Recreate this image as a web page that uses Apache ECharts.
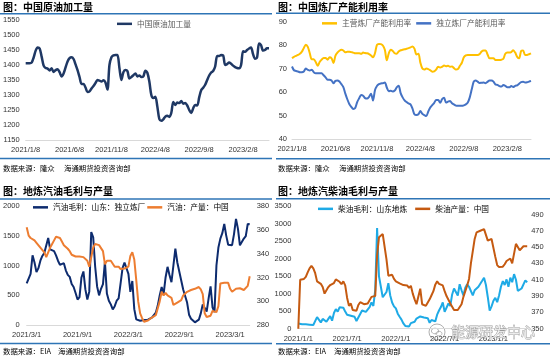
<!DOCTYPE html>
<html><head><meta charset="utf-8">
<script src="https://cdn.jsdelivr.net/npm/echarts@6/dist/echarts.min.js"></script>
<style>html,body{margin:0;padding:0;background:#fff}#c{width:550px;height:358px}</style>
</head><body><div id="c"></div>
<script>
// ---------- Panel 1: 中国原油加工量 (weekly from 2021/1/8)
const p1Start = '2021/1/8';
const p1TickLabels = ['2021/1/8','2021/6/8','2021/11/8','2022/4/8','2022/9/8','2023/2/8'];
const p1YTicks = [1150,1550,50];
const p1Crude = [1406,1406,1406,1408,1425,1448,1458,1455,1428,1398,
 1390,1388,1382,1389,1377,1383,1386,1376,1362,1372,
 1392,1412,1423,1426,1420,1402,1383,1360,1337,1337,
 1325,1310,1312,1322,1330,1340,1350,1348,1345,1349,
 1342,1318,1400,1426,1432,1433,1433,1390,1350,1376,
 1383,1380,1355,1360,1366,1372,1362,1365,1360,1362,
 1381,1374,1345,1300,1290,1294,1262,1220,1214,1219,
 1228,1231,1227,1240,1277,1267,1275,1273,1280,1271,
 1273,1265,1250,1240,1256,1267,1265,1292,1316,1324,
 1334,1350,1365,1375,1380,1395,1430,1430,1433,1432,
 1400,1403,1408,1404,1398,1393,1390,1389,1400,1446,
 1444,1450,1455,1458,1436,1421,1425,1472,1466,1448,
 1450,1456,1456];

// ---------- Panel 2: 中国炼厂产能利用率
const p2Start = '2021/1/8';
const p2TickLabels = ['2021/1/8','2021/6/8','2021/11/8','2022/4/8','2022/9/8','2023/2/8'];
const p2YTicks = [40,90,10];
const p2Main = [74.4,75.0,75.4,75.8,76.3,77.2,78.8,80.1,79.2,76.5,
 74.0,74.0,72.8,71.2,72.8,73.8,74.5,74.5,73.8,74.8,
 74.4,72.4,75.5,76.8,77.6,78.0,77.7,76.9,77.2,77.2,
 77.0,76.8,76.5,76.5,76.5,76.3,76.8,76.6,76.5,76.2,
 75.6,74.8,76.5,80.1,80.5,80.4,79.8,78.0,73.5,76.5,
 78.0,77.5,76.5,76.3,77.3,77.8,78.0,78.2,78.4,78.7,
 79.0,79.4,78.5,76.0,76.3,72.5,70.0,69.6,70.0,69.8,
 69.3,68.7,68.8,69.6,70.8,70.5,70.8,71.3,71.0,71.2,
 70.8,70.9,70.2,69.6,69.8,71.2,72.5,74.8,75.6,75.8,
 75.8,75.8,75.8,75.8,75.8,76.2,77.3,77.7,77.7,76.0,
 74.4,74.4,74.4,73.7,73.7,73.7,73.8,74.2,76.3,76.8,
 76.8,77.0,77.8,76.8,75.0,74.4,77.5,77.7,75.8,75.8,
 76.1,76.5];
const p2Indep = [70.9,69.3,69.0,68.8,68.5,68.5,68.8,70.0,69.5,69.2,
 69.5,68.5,68.0,68.0,68.0,68.0,67.2,66.3,65.3,65.3,
 65.0,63.8,64.8,65.0,64.5,63.4,62.1,59.4,57.0,55.0,
 53.8,52.9,53.3,55.8,57.4,58.8,58.5,57.5,57.3,58.0,
 59.3,56.5,60.8,62.6,63.4,63.7,63.8,64.1,62.0,60.4,
 60.6,60.3,60.7,62.0,62.7,59.6,57.8,56.5,55.8,55.2,
 54.8,53.0,50.6,50.3,50.6,52.0,50.8,50.3,49.9,51.8,
 53.5,54.5,55.5,56.7,56.7,55.5,57.0,57.6,55.6,56.0,
 56.3,55.3,54.8,54.3,54.2,54.2,54.2,54.4,54.8,55.6,
 57.8,61.2,64.5,65.0,64.5,63.9,64.0,64.1,63.8,64.4,
 65.0,65.0,64.5,63.3,63.1,62.6,62.4,63.0,62.7,62.1,
 62.1,62.6,62.2,62.7,62.9,63.6,64.3,64.4,64.1,64.2,
 64.5,64.8];

// ---------- Panel 3: 地炼汽油毛利与产量
const p3Start = '2021/3/1';
const p3TickLabels = ['2021/3/1','2021/9/1','2022/3/1','2022/9/1','2023/3/1'];
const p3YLeft = [0,2000,500];
const p3YRight = [280,380,20];
const p3Margin = [700,733,860,1170,1050,890,956,1080,1160,1210,
 1220,1460,1270,1260,1240,1170,1080,1010,1020,1039,
 920,844,810,690,640,540,430,470,800,900,
 600,430,567,1560,1470,983,650,500,610,690,
 1060,530,411,350,265,320,411,450,700,956,
 1050,1050,860,560,740,270,100,72,77,77,
 90,110,94,110,130,155,210,330,500,640,
 520,800,978,840,720,1000,1282,1050,1061,750,
 600,620,380,177,110,130,50,50,94,200,
 350,380,230,450,650,300,220,1000,1300,1450,
 1540,1696,1500,1348,1345,1340,1530,1780,1613,1337,
 1360,1450,1492,1696,1690];
const p3Output = [362,355,353,352,351,349,347.5,345,343.5,341,
 337,341,345,348,351,354,355,353,350,347,
 348,344,342,339,339,337.5,338,337.5,337,337,
 335.5,334,329,330,345,348,346.5,347,346,342,
 331,334,335,334,333,329,328,329,327,326,
 327.5,326,329,338,341,335,318,300,290,286,
 283,283.5,284,285,286.5,288,288.5,290,300,308,
 305,307,305,304,303,297,298.5,299,300,301,
 305,304.5,308,309.5,309.5,310,310.5,310.5,312,310,
 306,290,287,288.5,288,292,291.5,291,296,315,
 316,315.5,316,315.5,310.5,308,309.5,310.5,310,311,
 310.5,309.5,308.5,313,321];

// ---------- Panel 4: 地炼汽柴油毛利与产量
const p4Start = '2021/1/1';
const p4TickLabels = ['2021/1/1','2021/7/1','2022/1/1','2022/7/1','2023/1/1'];
const p4YLeft = [0,3500,500];
const p4YRightLabels = [350,370,390,410,430,450,470,490];
const p4YRightRange = [350,500];
const p4Margin = [150,140,130,130,125,120,115,110,105,110,
 330,315,180,280,290,200,280,360,230,450,
 560,490,610,650,600,490,400,380,370,390,
 340,220,320,420,520,540,480,500,620,750,
 650,1100,2880,1500,1200,900,950,1050,1300,950,
 750,640,580,430,340,260,150,80,90,60,
 160,130,200,290,250,350,300,320,280,300,
 170,250,200,210,400,520,620,750,480,500,
 720,650,980,1150,1100,950,1270,1100,950,1170,
 1270,1200,1150,950,1100,1100,1200,1230,1370,1460,
 1250,900,520,640,800,880,760,950,1200,1360,
 1250,1410,1200,1460,1330,1560,1400,1080,1090,1150,
 1190,1380,1330];
const p4Output = [350,410,410.5,411,413.5,419,424,427,424,418,
 408,406,405,401,393,394,401,403.5,403,406,
 410.5,409,407.5,404.5,408,403,388,378,381,373,
 371,372,379,382.5,384,380,378,381,379,389,
 390,390,440,462,464,466,468,435,415,415.5,
 416,411,408,406.5,405.5,404.5,403.5,404.5,403,400,
 402.5,393,386,380,380,399,380,378,378,382,
 386,391,396,404,408,405,404,403,396,390,
 391,381,383,373,374,373,374,380,389,396,
 403,411,430,445,460,468,468,470,472,472,
 470,458,459,460,459,438,428,425.5,424.5,426,
 429,433,435,436,430,428,454,455,446,444,
 451,449,451];

// ---------- helpers
const FONT = "'Liberation Sans','Noto Sans CJK SC',sans-serif";
const CJK = "'Noto Sans CJK SC','Liberation Sans',sans-serif";
const DAY = 864e5;
function parseD(s){const a=s.split('/').map(Number);return Date.UTC(a[0],a[1]-1,a[2]);}
function weekly(start,n){const t0=parseD(start),out=[];for(let i=0;i<n;i++){const d=new Date(t0+i*7*DAY);out.push(d.getUTCFullYear()+'/'+(d.getUTCMonth()+1)+'/'+d.getUTCDate());}return out;}
function tickIdx(start,labels){const t0=parseD(start);return labels.map(l=>Math.round((parseD(l)-t0)/(7*DAY)));}
const plain = v => String(v);

function xAx(gi,start,n,labels){
  const idx=tickIdx(start,labels);
  return {type:'category',gridIndex:gi,data:weekly(start,n),boundaryGap:false,
    axisLine:{show:true,lineStyle:{color:'#d9d9d9',width:1}},axisTick:{show:false},splitLine:{show:false},
    axisLabel:{interval:(i)=>idx.indexOf(i)>=0,formatter:(v,i)=>{const k=idx.indexOf(i);return k>=0?labels[k]:'';},
      fontSize:7.5,color:'#333',margin:6,fontFamily:FONT}};
}
function yAx(gi,t,pos,margin){
  return {type:'value',gridIndex:gi,min:t[0],max:t[1],interval:t[2],position:pos,
    axisLine:{show:false},axisTick:{show:false},splitLine:{show:false},
    axisLabel:{fontSize:7.5,color:'#333',margin:margin,fontFamily:FONT,formatter:plain}};
}
function line(name,xi,yi,data,color,w,smooth){
  return {type:'line',name,xAxisIndex:xi,yAxisIndex:yi,data,symbol:'none',smooth:smooth||false,
    lineStyle:{color,width:w},itemStyle:{color},animation:false};
}
function legend(names,left,top,gap,color){
  return {data:names,left,top,padding:0,itemGap:gap,icon:'rect',itemWidth:15,itemHeight:2.5,
    textStyle:{fontSize:7.7,color:color,fontFamily:CJK},selectedMode:false};
}
function txt(x,y,s,size,weight,fill){
  return {type:'text',x,y,style:{text:s,fontSize:size,fontWeight:weight||'normal',fill:fill||'#000',fontFamily:CJK,textVerticalAlign:'middle',verticalAlign:'middle'},z:10};
}
function hl(x1,x2,y){return {type:'line',shape:{x1,y1:y,x2,y2:y},style:{stroke:'#2E75B6',lineWidth:1.5},z:10};}

const chart = echarts.init(document.getElementById('c'),null,{renderer:'canvas'});
chart.setOption({
  animation:false,
  backgroundColor:'#fff',
  grid:[
    {left:24,right:281,top:20,bottom:218},
    {left:292,right:19,top:21.5,bottom:218.7},
    {left:24,right:300.3,top:205.7,bottom:32.7},
    {left:298.3,right:22.8,top:206.3,bottom:29.3}
  ],
  xAxis:[
    xAx(0,p1Start,p1Crude.length,p1TickLabels),
    xAx(1,p2Start,p2Main.length,p2TickLabels),
    xAx(2,p3Start,p3Margin.length,p3TickLabels),
    xAx(3,p4Start,p4Margin.length,p4TickLabels)
  ],
  yAxis:[
    yAx(0,p1YTicks,'left',6),
    yAx(1,p2YTicks,'left',5),
    yAx(2,p3YLeft,'left',7),
    yAx(2,p3YRight,'right',7),
    yAx(3,p4YLeft,'left',7),
    {type:'value',gridIndex:3,position:'right',min:p4YRightRange[0],max:p4YRightRange[1],
      axisLine:{show:false},axisTick:{show:false},splitLine:{show:false},
      axisLabel:{customValues:p4YRightLabels,fontSize:7.5,color:'#333',margin:4,fontFamily:FONT,formatter:plain}}
  ],
  legend:[
    legend(['中国原油加工量'],117,20,5,'#595959'),
    legend(['主营炼厂产能利用率','独立炼厂产能利用率'],322,19.5,5,'#595959'),
    legend(['汽油毛利：山东：独立炼厂','汽油：产量：中国'],33,203.5,2,'#000'),
    legend(['柴油毛利：山东地炼','柴油产量：中国'],318,205,8,'#000')
  ],
  series:[
    line('中国原油加工量',0,0,p1Crude,'#1F3864',2.5,0.3),
    line('主营炼厂产能利用率',1,1,p2Main,'#FFC000',2,0.3),
    line('独立炼厂产能利用率',1,1,p2Indep,'#4472C4',2,0.3),
    line('汽油毛利：山东：独立炼厂',2,2,p3Margin,'#0D2B6E',2),
    line('汽油：产量：中国',2,3,p3Output,'#ED7D31',2),
    line('柴油毛利：山东地炼',3,4,p4Margin,'#1EAAE6',2),
    line('柴油产量：中国',3,5,p4Output,'#C55A11',2)
  ],
  graphic:[
    txt(3,7.3,'图：中国原油加工量',10,'bold'),
    txt(278,7.3,'图：中国炼厂产能利用率',10,'bold'),
    txt(3,191.3,'图：地炼汽油毛利与产量',10,'bold'),
    txt(278,191.3,'图：地炼汽柴油毛利与产量',10,'bold'),
    hl(0,272,13.8), hl(276,550,13.3),
    hl(0,272,158.5), hl(276,550,158.8),
    hl(0,272,199), hl(276,550,198.8),
    hl(0,272,343.5), hl(276,550,343.7),
    txt(3,168.3,'数据来源：隆众',7.4), txt(64,168.3,'海通期货投资咨询部',7.4),
    txt(278,168.3,'数据来源：隆众',7.4), txt(339,168.3,'海通期货投资咨询部',7.4),
    txt(3,351.3,'数据来源：EIA',7.4), txt(58,351.3,'海通期货投资咨询部',7.4),
    txt(278,351.3,'数据来源：EIA',7.4), txt(334,351.3,'海通期货投资咨询部',7.4),
    {type:'group',x:437,y:332,z:20,children:[
      {type:'circle',shape:{cx:0,cy:0,r:8},style:{fill:'rgba(255,255,255,0.6)',stroke:'#9a9a9a',lineWidth:0.8}},
      {type:'ellipse',shape:{cx:-2,cy:-1,rx:3.6,ry:2.8},style:{fill:'none',stroke:'#9a9a9a',lineWidth:0.7}},
      {type:'ellipse',shape:{cx:2,cy:1.6,rx:3,ry:2.3},style:{fill:'none',stroke:'#9a9a9a',lineWidth:0.7}}
    ]},
    {type:'text',x:451,y:332,z:20,style:{text:'能源研发中心',fontSize:14,fontFamily:CJK,fill:'rgba(255,255,255,0.75)',stroke:'#9a9a9a',lineWidth:0.8,verticalAlign:'middle',textVerticalAlign:'middle'}}
  ]
});
</script></body></html>
